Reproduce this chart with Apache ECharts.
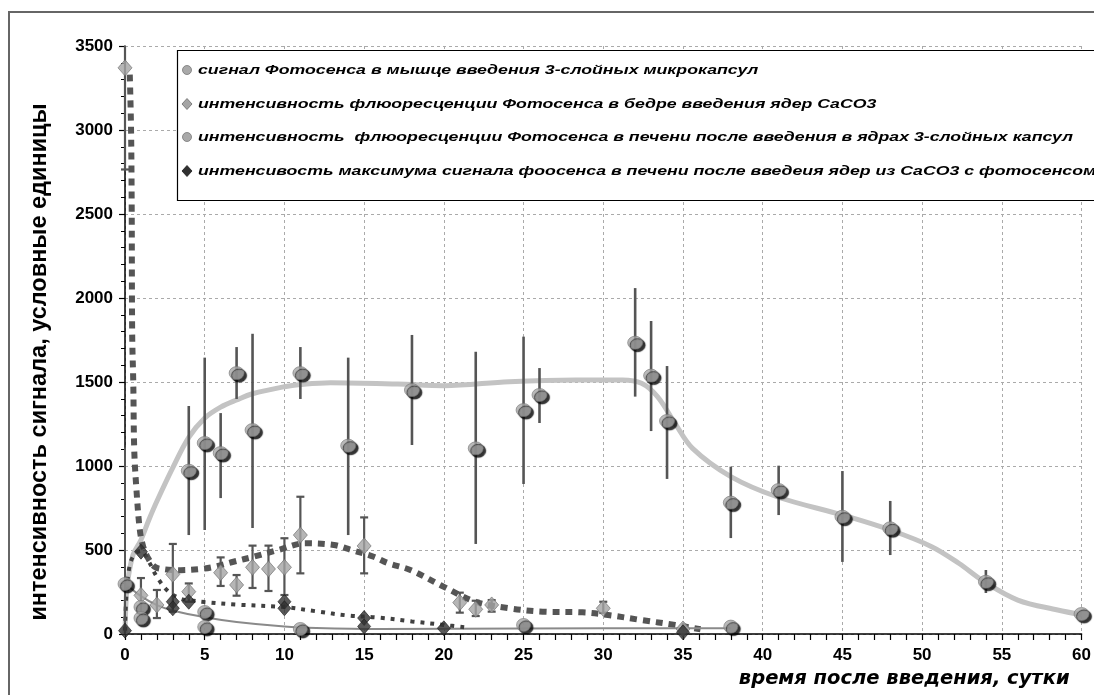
<!DOCTYPE html>
<html><head><meta charset="utf-8">
<script src="https://cdn.jsdelivr.net/npm/echarts@6/dist/echarts.min.js"></script>
<style>html,body{margin:0;padding:0;background:#fff}#c{width:1094px;height:695px}</style>
</head><body><div id="c"></div>
<script>
// ---------- DATA ----------
const legendLabels = [
  'сигнал Фотосенса в мышце введения 3-слойных микрокапсул',
  'интенсивность флюоресценции Фотосенса в бедре введения ядер CaCO3',
  'интенсивность  флюоресценции Фотосенса в печени после введения в ядрах 3-слойных капсул',
  'интенсивость максимума сигнала фоосенса в печени после введеия ядер из CaCO3 с фотосенсом'
];
const yTitle = 'интенсивность сигнала, условные единицы';
const xTitle = 'время после введения, сутки';
const xMin = 0, xMax = 60, xStep = 5;
const yMin = 0, yMax = 3500, yStep = 500;

// series 1: muscle, 3-layer microcapsules
const muscleDays   = [4, 5, 6, 7, 8, 11, 14, 18, 22, 25, 26, 32, 33, 34, 38, 41, 45, 48, 54, 60];
const muscleValues = [972, 1137, 1077, 1553, 1214, 1553, 1121, 1452, 1105, 1333, 1423, 1734, 1538, 1268, 782, 857, 698, 629, 311, 119];
const muscleLow    = [589, 619, 809, 1399, 631, 1399, 589, 1125, 536, 893, 1256, 1413, 1208, 923, 571, 708, 429, 470, 244, null];
const muscleHigh   = [1357, 1645, 1315, 1708, 1787, 1708, 1645, 1780, 1680, 1770, 1583, 2059, 1863, 1595, 996, 1002, 970, 792, 381, null];
const muscleTrendDays = [0, 0.05, 0.15, 0.5, 1, 1.5, 2, 3, 4, 5, 6, 7, 8, 10, 11, 12.9, 17.1, 20, 24.1, 28.3, 31.2, 32.4, 33.4, 34.5, 35.6, 38, 40.9, 45, 48, 50.6, 52.3, 53.9, 56, 58.5, 60];
const muscleTrendVals = [0, 160, 300, 470, 560, 680, 790, 990, 1170, 1285, 1350, 1393, 1430, 1472, 1485, 1496, 1488, 1478, 1502, 1512, 1512, 1492, 1413, 1254, 1105, 937, 817, 708, 619, 520, 421, 311, 202, 143, 115];

// series 2: thigh, CaCO3 cores
const thighDays   = [0, 1, 2, 3, 4, 6, 7, 8, 9, 10, 11, 15, 21, 22, 23, 30, 35];
const thighValues = [3370, 230, 173, 355, 252, 365, 292, 397, 387, 397, 589, 524, 187, 147, 173, 153, 30];
const thighLow    = [2765, 125, 95, 133, 192, 286, 228, 274, 256, 232, 361, 361, 127, 107, 133, 125, null];
const thighHigh   = [3975, 333, 262, 536, 301, 456, 351, 526, 526, 570, 817, 694, 246, 198, 202, 192, null];
const thighTrendDays = [0.3, 0.38, 0.42, 0.45, 0.52, 0.58, 0.72, 0.93, 1.14, 1.4, 1.86, 2.5, 3.5, 4.76, 5.6, 6.8, 8.07, 9.6, 11.3, 13.1, 14.2, 15.6, 16.5, 17.9, 19.97, 22, 24.1, 26.2, 28.7, 30.3, 32.4, 34.5, 36.1];
const thighTrendVals = [3330, 3000, 2540, 1790, 1490, 1095, 857, 619, 520, 460, 400, 385, 380, 387, 400, 430, 460, 500, 540, 530, 500, 460, 422, 381, 282, 192, 153, 133, 129, 113, 83, 54, 28];

// series 3: liver, cores in 3-layer capsules
const liverCapsDays   = [0, 1, 1, 5, 5, 11, 25, 38];
const liverCapsValues = [298, 161, 95, 131, 42, 30, 54, 44];
const liverCapsLow    = [0, null, null, null, null, null, null, null];
const liverCapsHigh   = [1110, null, null, null, null, null, null, null];
const liverCapsTrendDays = [0, 1, 2, 3, 5, 7, 10, 12, 16, 25, 38];
const liverCapsTrendVals = [300, 225, 172, 140, 100, 72, 45, 36, 30, 33, 34];

// series 4: liver, max signal, CaCO3 cores
const liverCoreDays   = [0, 1, 3, 3, 4, 10, 10, 15, 15, 20, 35];
const liverCoreValues = [20, 490, 192, 153, 192, 192, 153, 95, 45, 34, 10];
const liverCoreTrendDays = [0, 0.1, 0.3, 0.6, 1, 1.5, 2, 2.7, 3.5, 4.1, 5, 7, 10, 12, 14, 15.8, 18, 20, 21.3];
const liverCoreTrendVals = [20, 250, 410, 475, 495, 430, 340, 255, 210, 200, 190, 175, 160, 135, 110, 99, 75, 54, 40];

// ---------- helpers ----------
const pairs = (xs, ys) => xs.map((x, i) => [x, ys[i]]);
const errs = (xs, lo, hi) => xs.map((x, i) => [x, lo[i], hi[i]]).filter(d => d[1] != null);

function errRender(cap, width) {
  return function (params, api) {
    const x = api.value(0), lo = api.value(1), hi = api.value(2);
    const cs = params.coordSys;
    const top = cs.y, bot = cs.y + cs.height;
    const a = api.coord([x, lo]), b = api.coord([x, hi]);
    const style = { stroke: '#555', lineWidth: width, fill: null };
    const children = [{ type: 'line', shape: { x1: a[0], y1: Math.min(bot, a[1]), x2: a[0], y2: Math.max(top, b[1]) }, style }];
    if (cap) {
      if (a[1] <= bot) children.push({ type: 'line', shape: { x1: a[0] - cap, y1: a[1], x2: a[0] + cap, y2: a[1] }, style });
      if (b[1] >= top) children.push({ type: 'line', shape: { x1: b[0] - cap, y1: b[1], x2: b[0] + cap, y2: b[1] }, style });
    }
    return { type: 'group', children };
  };
}

const circleStyle = { color: '#a9a9a9', borderColor: '#777', borderWidth: 0.8, shadowColor: '#000', shadowBlur: 1, shadowOffsetX: 2.5, shadowOffsetY: 2.5 };
const diamondStyle = { color: '#a4a4a4', borderColor: '#6a6a6a', borderWidth: 0.8 };
const darkStyle = { color: '#303030', borderColor: '#1a1a1a', borderWidth: 0.8 };

// legend text scale (reference text is horizontally stretched)
const legendFont = 'italic bold 13px "Liberation Sans", Arial, sans-serif';
const mctx = document.createElement('canvas').getContext('2d');
mctx.font = legendFont;
const legendScale = 875 / mctx.measureText(legendLabels[2]).width;

const legendRowsY = [70, 104, 137, 171];
const legendGraphic = [
  { type: 'rect', shape: { x: 177.5, y: 50.5, width: 1000, height: 150 }, style: { fill: '#fff', stroke: '#000', lineWidth: 1.2 }, z: 100 }
];
const iconX = 187;
legendRowsY.forEach((y, i) => {
  let icon;
  if (i === 0 || i === 2) icon = { type: 'circle', shape: { cx: iconX, cy: y, r: 4.5 }, style: { fill: '#a9a9a9', stroke: '#777', lineWidth: 0.8 }, z: 101 };
  else icon = { type: 'polygon', shape: { points: [[iconX, y - 5.5], [iconX + 5, y], [iconX, y + 5.5], [iconX - 5, y]] }, style: { fill: i === 1 ? '#a4a4a4' : '#303030', stroke: i === 1 ? '#6a6a6a' : '#1a1a1a', lineWidth: 0.8 }, z: 101 };
  legendGraphic.push(icon);
  legendGraphic.push({ type: 'text', x: 198, y: y, scaleX: legendScale, z: 101,
    style: { text: legendLabels[i], font: legendFont, fill: '#000', verticalAlign: 'middle', align: 'left' } });
});

const chart = echarts.init(document.getElementById('c'), null, { renderer: 'canvas' });
chart.setOption({
  backgroundColor: '#fff',
  animation: false,
  grid: { left: 125, right: 4, top: 46, bottom: 61, containLabel: false },
  xAxis: {
    type: 'value', min: xMin, max: xMax, interval: xStep,
    name: xTitle, nameLocation: 'end', nameGap: -12,
    nameTextStyle: { fontFamily: 'DejaVu Sans', fontWeight: 'bold', fontStyle: 'italic', fontSize: 19.5, color: '#000', align: 'right', verticalAlign: 'top', padding: [35, 0, 0, 0] },
    axisLine: { onZero: false, lineStyle: { color: '#000', width: 1.5 } },
    axisTick: { inside: false, length: 6, lineStyle: { color: '#000', width: 1.2 } },
    minorTick: { show: true, splitNumber: 5, length: 6, lineStyle: { color: '#000', width: 1.2 } },
    axisLabel: { margin: 13, fontFamily: 'Liberation Sans', fontWeight: 'bold', fontSize: 17, color: '#000', formatter: v => String(v) },
    splitLine: { show: true, lineStyle: { color: '#aaa', type: [3, 3], width: 1 } }
  },
  yAxis: {
    type: 'value', min: yMin, max: yMax, interval: yStep,
    name: yTitle, nameLocation: 'middle', nameGap: 73, nameRotate: 90,
    nameTextStyle: { fontFamily: 'Liberation Sans', fontWeight: 'bold', fontSize: 23.5, color: '#000', padding: [0, 44, 0, 0] },
    axisLine: { show: true, onZero: false, lineStyle: { color: '#000', width: 1.5 } },
    axisTick: { show: true, inside: false, length: 6, lineStyle: { color: '#000', width: 1.2 } },
    minorTick: { show: true, splitNumber: 5, length: 4, lineStyle: { color: '#000', width: 1 } },
    axisLabel: { margin: 12, fontFamily: 'Liberation Sans', fontWeight: 'bold', fontSize: 17, color: '#000', formatter: v => String(v) },
    splitLine: { show: true, lineStyle: { color: '#aaa', type: [3, 3], width: 1 } }
  },
  graphic: [
    { type: 'rect', shape: { x: 9, y: 12, width: 1300, height: 900 }, style: { fill: null, stroke: '#666', lineWidth: 2 }, z: 0 }
  ].concat(legendGraphic),
  series: [
    { type: 'line', name: 'trend1', data: pairs(muscleTrendDays, muscleTrendVals), smooth: 0.35, showSymbol: false, symbol: 'none',
      lineStyle: { color: '#c3c3c3', width: 5 }, z: 2, clip: true },
    { type: 'line', name: 'trend2', data: pairs(thighTrendDays, thighTrendVals), smooth: 0.35, showSymbol: false, symbol: 'none',
      lineStyle: { color: '#555', width: 6, type: [7, 6], cap: 'butt' }, z: 3, clip: true },
    { type: 'line', name: 'trend3', data: pairs(liverCapsTrendDays, liverCapsTrendVals), smooth: 0.35, showSymbol: false, symbol: 'none',
      lineStyle: { color: '#8a8a8a', width: 2 }, z: 3, clip: true },
    { type: 'line', name: 'trend4', data: pairs(liverCoreTrendDays, liverCoreTrendVals), smooth: 0.35, showSymbol: false, symbol: 'none',
      lineStyle: { color: '#404040', width: 4, type: [4, 6], cap: 'butt' }, z: 3, clip: true },
    { type: 'custom', name: 'err1', data: errs(muscleDays, muscleLow, muscleHigh), renderItem: errRender(0, 2.6), encode: { x: 0, y: [1, 2] }, z: 4 },
    { type: 'custom', name: 'err2', data: errs(thighDays, thighLow, thighHigh), renderItem: errRender(4, 2.2), encode: { x: 0, y: [1, 2] }, z: 4 },
    { type: 'custom', name: 'err3', data: errs(liverCapsDays, liverCapsLow, liverCapsHigh), renderItem: errRender(0, 2), encode: { x: 0, y: [1, 2] }, z: 4 },
    { type: 'scatter', name: legendLabels[0], data: pairs(muscleDays, muscleValues), symbol: 'circle', symbolSize: [15, 13], itemStyle: circleStyle, z: 6 },
    { type: 'scatter', name: legendLabels[1], data: pairs(thighDays, thighValues), symbol: 'diamond', symbolSize: [14, 16], itemStyle: diamondStyle, z: 6 },
    { type: 'scatter', name: legendLabels[2], data: pairs(liverCapsDays, liverCapsValues), symbol: 'circle', symbolSize: [14, 13], itemStyle: circleStyle, z: 6 },
    { type: 'scatter', name: legendLabels[3], data: pairs(liverCoreDays, liverCoreValues), symbol: 'diamond', symbolSize: [13, 15], itemStyle: darkStyle, z: 7 }
  ]
});
</script></body></html>
